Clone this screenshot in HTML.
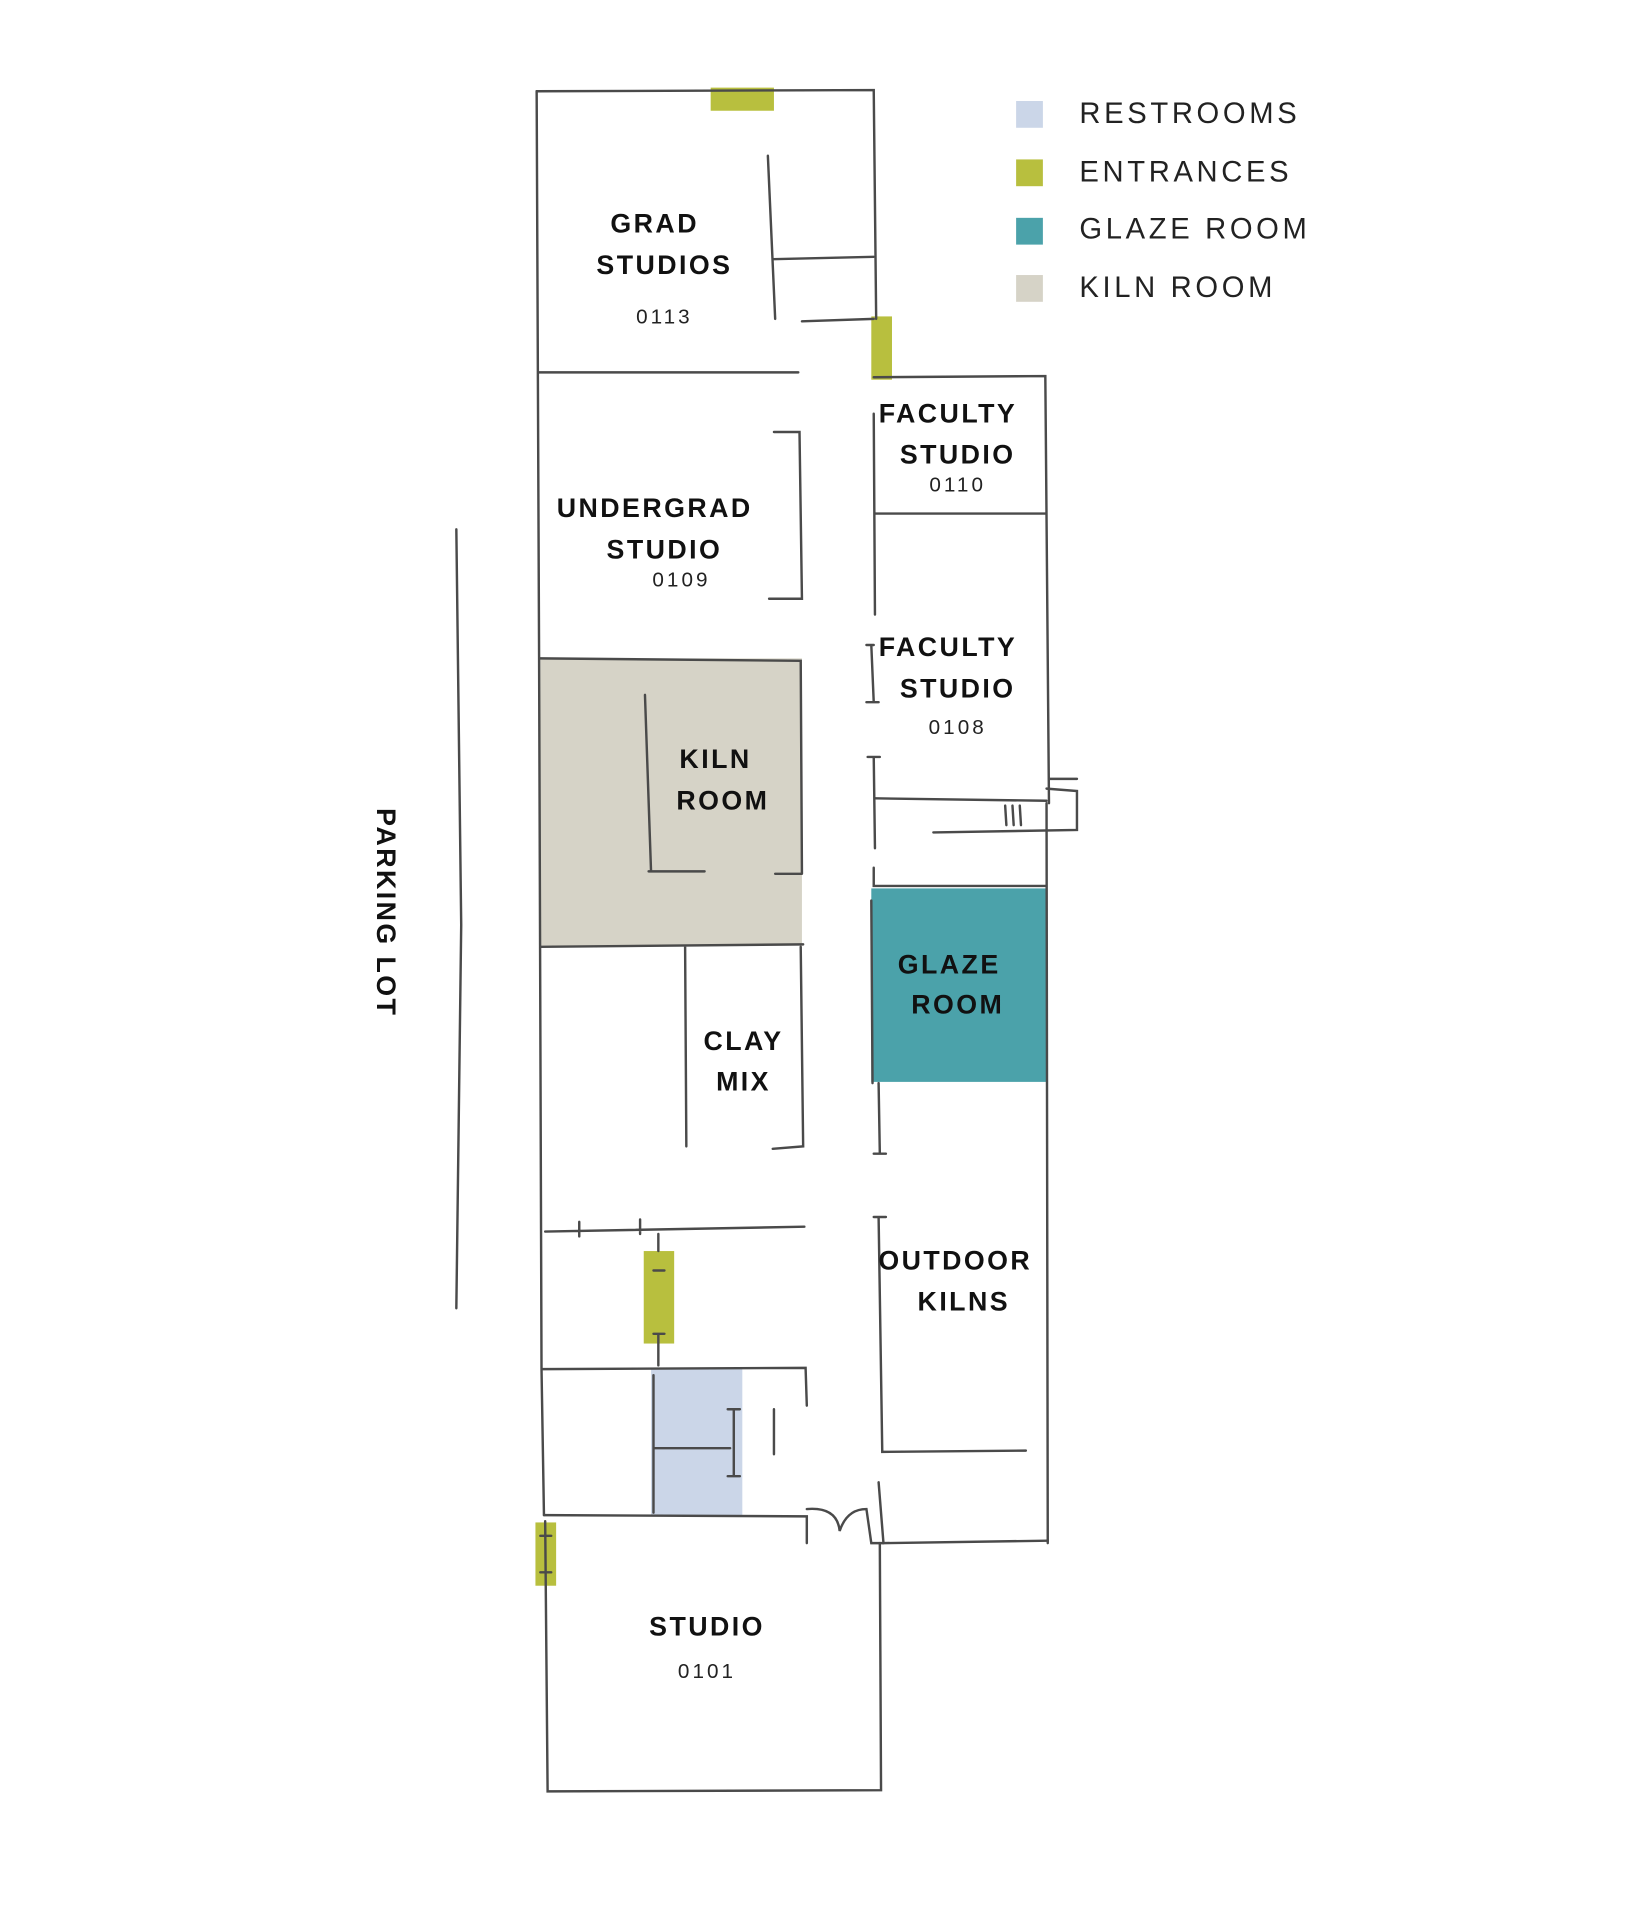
<!DOCTYPE html>
<html><head><meta charset="utf-8"><style>
html,body{margin:0;padding:0;background:#fff;width:1627px;height:1907px;overflow:hidden}
svg{display:block}
.l{font-family:"Liberation Sans Narrow","Liberation Sans",sans-serif;font-weight:bold;font-size:22px;letter-spacing:2px;fill:#111;text-anchor:middle}
.n{font-family:"Liberation Sans",sans-serif;font-size:17px;letter-spacing:2.5px;fill:#222;text-anchor:middle}
.g{font-family:"Liberation Sans",sans-serif;font-size:24px;letter-spacing:3px;fill:#222}
</style></head><body>
<svg width="1627" height="1907" viewBox="0 0 1337 1567" preserveAspectRatio="none">
<rect x="444" y="541" width="215" height="236" fill="#d6d3c7"/>
<rect x="716" y="730" width="144" height="159" fill="#4ba2aa"/>
<rect x="535" y="1125" width="75" height="121" fill="#cbd6e8"/>
<rect x="584" y="72" width="52" height="19" fill="#b8bf3e"/>
<rect x="716" y="260" width="17" height="52" fill="#b8bf3e"/>
<rect x="529" y="1028" width="25" height="76" fill="#b8bf3e"/>
<rect x="440" y="1251" width="17" height="52" fill="#b8bf3e"/>
<g fill="none" stroke="#4a4a4a" stroke-width="2" stroke-linecap="round">
<path d="M441 75 L718 74 L720 262"/>
<path d="M441 75 L443 540 L445 1125 L447 1245"/>
<path d="M448 1250 L450 1472 L724 1471 L723 1268"/>
<path d="M631 128 L637 262 M635 213 L718 211 M659 264 L718 262"/>
<path d="M443 306 L656 306"/>
<path d="M718 310 L859 309 L862 660 M718 340 L719 505 M719 422 L859 422"/>
<path d="M636 355 L657 355 L659 492 L632 492"/>
<path d="M444 541 L658 543 L659 718 M530 571 L535 716 M533 716 L579 716 M637 718 L659 718"/>
<path d="M444 778 L660 776 M563 778 L564 942 M658 778 L660 942 L635 944"/>
<path d="M716 530 L718 577 M712 530 L718 530 M712 577 L722 577 M718 622 L719 697 M713 622 L723 622"/>
<path d="M719 656 L860 658 M767 684 L885 682 L885 650 L860 648 M862 640 L885 640 M826 662 L827 678 M832 662 L833 678 M838 662 L839 678"/>
<path d="M718 713 L718 728 L859 728 M860 660 L861 1268"/>
<path d="M716 740 L717 890 M722 890 L723 948 M718 948 L728 948"/>
<path d="M722 1000 L725 1193 L843 1192 M718 1000 L728 1000"/>
<path d="M722 1218 L726 1268 L861 1266"/>
<path d="M448 1012 L661 1008 M476 1004 L476 1016 M526 1002 L526 1014 M541 1014 L541 1028 M537 1044 L546 1044 M541 1096 L541 1122 M537 1096 L546 1096"/>
<path d="M446 1125 L662 1124 L663 1155"/>
<path d="M537 1130 L537 1243 M537 1190 L600 1190 M603 1158 L603 1213 M598 1158 L608 1158 M598 1213 L608 1213 M636 1158 L636 1195"/>
<path d="M447 1245 L663 1246 L663 1268 M663 1240 Q688 1238 690 1258 Q696 1240 712 1240 L716 1268 L726 1268"/>
<path d="M444 1262 L453 1262 M444 1292 L453 1292"/>
<path d="M375 435 L379 760 L375 1075"/>
</g>
<text class="l" x="538" y="191">GRAD</text>
<text class="l" x="546" y="225">STUDIOS</text>
<text class="n" x="546" y="266">0113</text>
<text class="l" x="538" y="425">UNDERGRAD</text>
<text class="l" x="546" y="459">STUDIO</text>
<text class="n" x="560" y="482">0109</text>
<text class="l" x="779" y="347">FACULTY</text>
<text class="l" x="787" y="381">STUDIO</text>
<text class="n" x="787" y="404">0110</text>
<text class="l" x="779" y="539">FACULTY</text>
<text class="l" x="787" y="573">STUDIO</text>
<text class="n" x="787" y="603">0108</text>
<text class="l" x="588" y="631">KILN</text>
<text class="l" x="594" y="665">ROOM</text>
<text class="l" x="611" y="863">CLAY</text>
<text class="l" x="611" y="896">MIX</text>
<text class="l" x="780" y="800">GLAZE</text>
<text class="l" x="787" y="833">ROOM</text>
<text class="l" x="785" y="1043">OUTDOOR</text>
<text class="l" x="792" y="1077">KILNS</text>
<text class="l" x="581" y="1344">STUDIO</text>
<text class="n" x="581" y="1379">0101</text>
<text class="l" transform="translate(310,750) rotate(90)" x="0" y="0">PARKING LOT</text>
<rect x="835" y="83" width="22" height="22" fill="#cbd6e8"/>
<rect x="835" y="131" width="22" height="22" fill="#b8bf3e"/>
<rect x="835" y="179" width="22" height="22" fill="#4ba2aa"/>
<rect x="835" y="226" width="22" height="22" fill="#d6d3c7"/>
<text class="g" x="887" y="101">RESTROOMS</text>
<text class="g" x="887" y="149">ENTRANCES</text>
<text class="g" x="887" y="196">GLAZE ROOM</text>
<text class="g" x="887" y="244">KILN ROOM</text>
</svg>
</body></html>
